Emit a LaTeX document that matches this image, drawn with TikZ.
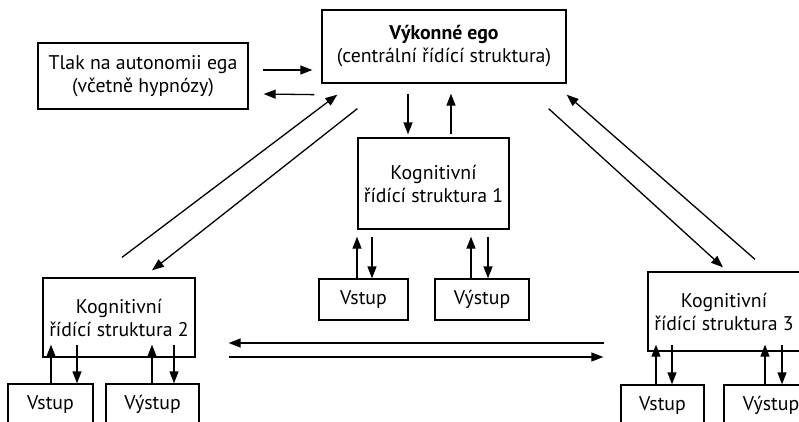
\documentclass[tikz,border=0pt]{standalone}
\usepackage{fontspec}
\setmainfont{PT Sans}
\usetikzlibrary{arrows.meta,calc}

\tikzset{
  box/.style={draw, line width=1.3pt, align=center, inner sep=0pt,
    font=\fontsize{19.8}{23}\selectfont},
  kogbox/.style={box, minimum width=152pt, minimum height=79pt},
  iobox/.style={box, minimum height=41pt},
  arr/.style={line width=1.3pt, -{Triangle[length=12pt,width=9pt]}}
}

\begin{document}
\begin{tikzpicture}[x=1pt,y=-1pt]
  \useasboundingbox (0,0) rectangle (799,421);
  \clip (0,0) rectangle (799,421);
  % boxes
  \node[box, minimum width=244pt, minimum height=73pt] (ego) at (444,46.5)
    {\textbf{Výkonné ego}\\(centrální řídící struktura)};
  \node[box, minimum width=210pt, minimum height=66pt] (tlak) at (143,76)
    {Tlak na autonomii ega\\(včetně hypnózy)};
  \node[kogbox, minimum width=151pt, minimum height=91pt] (k1) at (433.5,183.5)
    {Kognitivní\\řídící struktura 1};
  \node[kogbox] (k2) at (119,317.5) {Kognitivní\\řídící struktura 2};
  \node[kogbox] (k3) at (724,311.5) {Kognitivní\\řídící struktura 3};
  \node[iobox, minimum width=89pt] (vstup1) at (363.5,299.5) {Vstup};
  \node[iobox, minimum width=94pt] (vystup1) at (482,299.5) {Výstup};
  \node[iobox, minimum width=85pt] (vstup2) at (50.5,404.5) {Vstup};
  \node[iobox, minimum width=93pt] (vystup2) at (152.5,404.5) {Výstup};
  \node[iobox, minimum width=83pt] (vstup3) at (662.5,405.5) {Vstup};
  \node[iobox, minimum width=94pt] (vystup3) at (771,405.5) {Výstup};
  % ego <-> tlak
  \draw[arr] ($(tlak.east)+(14,-6)$) -- ($(ego.west)+(-9,23.5)$);
  \draw[arr] ($(ego.south west)+(-7,11)$) -- ($(tlak.east)+(15,18)$);
  % ego <-> k1
  \draw[arr] ($(ego.south)+(-36,10)$) -- ($(k1.north)+(-25.5,-3)$);
  \draw[arr] ($(k1.north)+(17.5,-3)$) -- ($(ego.south)+(7,10)$);
  % ego <-> k2
  \draw[arr] ($(k2.north)+(3,-20)$) -- ($(ego.south west)+(16,11)$);
  \draw[arr] ($(ego.south west)+(36,25)$) -- ($(k2.north)+(33,-7)$);
  % ego <-> k3
  \draw[arr] ($(ego.south east)+(-18,25)$) -- ($(k3.north)+(-1,-4)$);
  \draw[arr] ($(k3.north)+(31,-12)$) -- ($(ego.south east)+(0,11)$);
  % k2 <-> k3
  \draw[arr] ($(k3.west)+(-43,31.5)$) -- ($(k2.east)+(33,25.5)$);
  \draw[arr] ($(k2.east)+(33,39.5)$) -- ($(k3.west)+(-44,45.5)$);
  % k1 inputs/outputs
  \draw[arr] ($(vstup1.north)+(-6.5,0)$) -- ($(vstup1.north |- k1.south)+(-6.5,7)$);
  \draw[arr] ($(vstup1.north |- k1.south)+(8.5,7)$) -- ($(vstup1.north)+(8.5,0)$);
  \draw[arr] ($(vystup1.north)+(-11,0)$) -- ($(vystup1.north |- k1.south)+(-11,7)$);
  \draw[arr] ($(vystup1.north |- k1.south)+(6,7)$) -- ($(vystup1.north)+(6,0)$);
  % k2 inputs/outputs
  \draw[arr] ($(vstup2.north)+(0.5,0)$) -- ($(vstup2.north |- k2.south)+(0.5,-13)$);
  \draw[arr] ($(vstup2.north |- k2.south)+(26.5,-13)$) -- ($(vstup2.north)+(26.5,0)$);
  \draw[arr] ($(vystup2.north)+(-0.5,0)$) -- ($(vystup2.north |- k2.south)+(-0.5,-13)$);
  \draw[arr] ($(vystup2.north |- k2.south)+(21.5,-13)$) -- ($(vystup2.north)+(21.5,0)$);
  % k3 inputs/outputs
  \draw[arr] ($(vstup3.north)+(-6.5,0)$) -- ($(vstup3.north |- k3.south)+(-6.5,-7)$);
  \draw[arr] ($(vstup3.north |- k3.south)+(9.5,-7)$) -- ($(vstup3.north)+(9.5,0)$);
  \draw[arr] ($(vystup3.north)+(-6,0)$) -- ($(vystup3.north |- k3.south)+(-6,-7)$);
  \draw[arr] ($(vystup3.north |- k3.south)+(11,-7)$) -- ($(vystup3.north)+(11,0)$);
\end{tikzpicture}
\end{document}
